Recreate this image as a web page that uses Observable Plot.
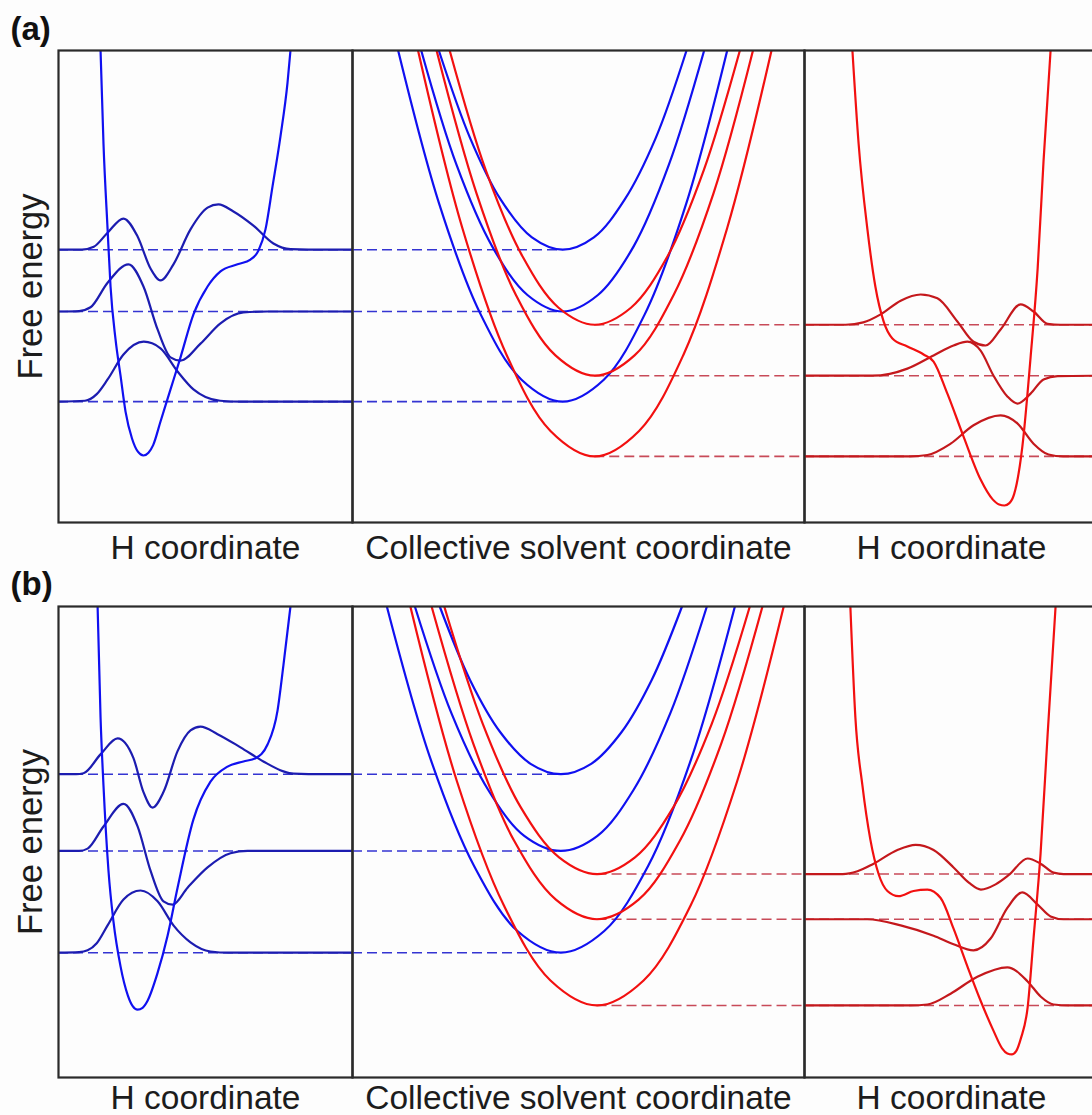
<!DOCTYPE html>
<html>
<head>
<meta charset="utf-8">
<script src="https://cdn.jsdelivr.net/npm/d3@7"></script>
<script src="https://cdn.jsdelivr.net/npm/@observablehq/plot@0.6"></script>
<style>
  html, body { margin: 0; padding: 0; background: #fdfdfd; }
  #fig { width: 1092px; height: 1115px; overflow: hidden; position: relative; background: #fdfdfd; }
  .row { display: flex; flex-direction: row; align-items: flex-start; }
  .row svg { flex: none; display: block; }
</style>
</head>
<body>
<div id="fig">
  <div class="row" id="rowA"></div>
  <div class="row" id="rowB"></div>
</div>
<script>
// ---------- Data (x: coordinate in arbitrary units 0-10 per panel; y: free energy, 0-100 of frame) ----------

// ===== Row (a) =====
const blueLevelsA = [25.6, 44.7, 57.8];
const redLevelsA  = [14.0, 31.1, 41.9];
const blueMinXA = 4.65;   // solvent coordinate of blue (reactant) minima
const redMinXA  = 5.36;   // solvent coordinate of red (product) minima

const bluePotentialA = [[1.43,100],[1.53,80.3],[1.67,62.1],[1.77,50.0],[1.94,38.8],[2.11,31.1],[2.28,23.5],[2.50,17.8],[2.70,15.0],[2.89,14.2],[3.06,14.8],[3.22,16.4],[3.47,21.4],[3.81,28.2],[4.15,35.0],[4.59,44.1],[5.07,50.0],[5.51,53.2],[6.09,54.7],[6.53,55.7],[6.80,57.6],[7.04,62.1],[7.28,71.2],[7.55,81.8],[7.79,93.2],[7.89,100]];
const blueWaveA0 = [[0,25.6],[0.9,25.8],[1.3,27.2],[1.67,30.3],[2.21,35.6],[2.9,38.3],[3.47,36.9],[4.05,32.0],[4.59,28.2],[5.0,26.6],[5.5,25.8],[6.2,25.6],[10,25.6]];
const blueWaveA1 = [[0,44.7],[0.7,44.8],[1.09,45.6],[1.67,50.8],[2.38,54.7],[2.89,50.0],[3.37,40.9],[3.81,35.0],[4.15,34.3],[4.83,37.9],[5.51,42.2],[6.29,44.5],[7.1,44.7],[10,44.7]];
const blueWaveA2 = [[0,57.8],[0.8,57.8],[1.2,58.4],[1.67,61.4],[2.21,64.4],[2.69,60.6],[3.13,53.8],[3.47,51.3],[3.91,54.7],[4.49,62.1],[5.07,66.7],[5.44,67.4],[5.95,65.9],[6.63,62.9],[7.31,59.1],[7.89,57.9],[8.5,57.8],[10,57.8]];

const blueParabolaA0 = [[1.01,100],[1.92,67.45],[2.83,44.2],[3.74,30.25],[4.65,25.6],[5.56,30.25],[6.47,44.2],[7.38,67.45],[8.29,100]];
const blueParabolaA1 = [[1.52,100],[2.30,75.8],[3.09,58.5],[3.87,48.2],[4.65,44.7],[5.43,48.2],[6.22,58.5],[7.00,75.8],[7.78,100]];
const blueParabolaA2 = [[1.91,100],[2.60,81.5],[3.28,68.4],[3.97,60.4],[4.65,57.8],[5.34,60.4],[6.02,68.4],[6.71,81.5],[7.39,100]];
const redParabolaA0  = [[1.45,100],[2.43,62.4],[3.41,35.5],[4.38,19.4],[5.36,14.0],[6.34,19.4],[7.32,35.5],[8.29,62.4],[9.27,100]];
const redParabolaA1  = [[1.86,100],[2.74,69.85],[3.61,48.3],[4.49,35.4],[5.36,31.1],[6.24,35.4],[7.11,48.3],[7.99,69.85],[8.86,100]];
const redParabolaA2  = [[2.15,100],[2.95,74.6],[3.76,56.4],[4.56,45.5],[5.36,41.9],[6.16,45.5],[6.97,56.4],[7.77,74.6],[8.57,100]];

const redPotentialA = [[1.63,100],[1.84,80.3],[2.14,62.1],[2.41,50.0],[2.69,42.6],[2.99,39.0],[3.50,37.3],[4.05,35.6],[4.39,34.1],[4.86,27.3],[5.41,18.2],[5.99,9.1],[6.40,4.9],[6.62,3.8],[6.80,3.6],[6.97,4.1],[7.13,6.0],[7.41,16.1],[7.69,35.0],[7.93,53.8],[8.13,76.5],[8.37,100]];
const redWaveA0 = [[0,14.0],[3.6,14.0],[4.18,14.3],[4.97,16.7],[5.75,20.6],[6.67,22.7],[7.24,21.0],[7.79,16.7],[8.30,14.4],[8.8,14.0],[10,14.0]];
const redWaveA1 = [[0,31.1],[2.3,31.1],[2.9,31.5],[3.50,32.6],[4.39,35.4],[5.07,37.5],[5.54,38.3],[5.99,36.4],[6.43,31.1],[6.90,26.7],[7.24,25.2],[7.69,27.3],[8.13,30.3],[8.61,31.0],[10,31.1]];
const redWaveA2 = [[0,41.9],[1.4,41.9],[2.0,42.4],[2.59,44.1],[3.27,47.0],[3.95,48.3],[4.52,47.5],[5.20,42.6],[5.75,38.3],[6.16,37.5],[6.67,40.9],[7.35,46.2],[7.79,44.7],[8.27,42.1],[8.71,41.9],[10,41.9]];

// ===== Row (b) =====
const blueLevelsB = [26.5, 48.1, 64.4];
const redLevelsB  = [15.3, 33.6, 43.2];
const blueMinXB = 4.61;
const redMinXB  = 5.41;

const bluePotentialB = [[1.33,100],[1.43,76.5],[1.53,62.0],[1.70,43.9],[1.87,33.1],[2.11,23.6],[2.36,17.4],[2.53,15.1],[2.69,14.4],[2.86,14.8],[3.03,16.3],[3.37,22.2],[3.71,30.1],[4.05,40.3],[4.59,54.8],[5.17,62.8],[5.75,66.0],[6.29,67.1],[6.70,67.8],[7.11,70.7],[7.45,77.9],[7.65,87.5],[7.89,100]];
const blueWaveB0 = [[0,26.5],[0.7,26.6],[0.99,27.0],[1.3,28.5],[1.67,32.3],[2.21,37.8],[2.79,39.7],[3.37,37.4],[3.91,32.3],[4.49,28.7],[5.17,26.75],[5.8,26.5],[10,26.5]];
const blueWaveB1 = [[0,48.1],[0.7,48.1],[0.99,48.6],[1.53,53.3],[2.21,58.1],[2.69,53.3],[3.13,43.9],[3.57,37.4],[3.88,36.7],[4.39,40.3],[5.07,44.6],[5.85,47.6],[6.43,48.1],[10,48.1]];
const blueWaveB2 = [[0,64.4],[0.6,64.4],[0.85,64.6],[1.43,68.6],[2.01,72.0],[2.55,67.8],[2.89,60.6],[3.20,57.3],[3.57,60.6],[4.05,69.3],[4.49,73.7],[4.83,74.5],[5.41,72.9],[6.19,70.1],[6.97,67.1],[7.65,65.0],[7.99,64.5],[8.5,64.4],[10,64.4]];

const blueParabolaB0 = [[0.76,100],[1.72,67.8],[2.69,44.9],[3.65,31.1],[4.61,26.5],[5.57,31.1],[6.54,44.9],[7.50,67.8],[8.46,100]];
const blueParabolaB1 = [[1.38,100],[2.19,77.3],[3.00,61.1],[3.80,51.3],[4.61,48.1],[5.42,51.3],[6.22,61.1],[7.03,77.3],[7.84,100]];
const blueParabolaB2 = [[1.93,100],[2.60,84.4],[3.27,73.3],[3.94,66.6],[4.61,64.4],[5.28,66.6],[5.95,73.3],[6.62,84.4],[7.29,100]];
const redParabolaB0  = [[1.28,100],[2.31,62.9],[3.35,36.5],[4.38,20.6],[5.41,15.3],[6.44,20.6],[7.48,36.5],[8.51,62.9],[9.54,100]];
const redParabolaB1  = [[1.75,100],[2.67,70.95],[3.58,50.2],[4.50,37.75],[5.41,33.6],[6.33,37.75],[7.24,50.2],[8.16,70.95],[9.07,100]];
const redParabolaB2  = [[2.03,100],[2.88,75.15],[3.72,57.4],[4.57,46.75],[5.41,43.2],[6.25,46.75],[7.10,57.4],[7.95,75.15],[8.79,100]];

const redPotentialB = [[1.56,100],[1.73,76.5],[1.97,62.0],[2.24,50.5],[2.52,43.2],[2.82,39.6],[3.20,38.5],[3.71,39.6],[4.18,39.9],[4.63,38.1],[5.07,31.6],[5.54,23.6],[5.99,16.3],[6.43,9.9],[6.72,6.2],[6.90,5.1],[7.05,4.9],[7.20,5.6],[7.36,8.3],[7.59,14.9],[7.79,29.5],[8.03,47.6],[8.27,72.9],[8.54,100]];
const redWaveB0 = [[0,15.3],[3.6,15.3],[4.18,15.5],[4.97,17.8],[5.88,21.4],[6.90,23.4],[7.59,20.4],[8.03,17.2],[8.47,15.5],[9.0,15.3],[10,15.3]];
const redWaveB1 = [[0,33.6],[2.14,33.6],[3.27,32.3],[4.39,30.1],[5.07,28.3],[5.75,27.0],[6.33,29.5],[6.90,36.0],[7.41,39.3],[7.93,36.7],[8.37,34.2],[8.81,33.6],[10,33.6]];
const redWaveB2 = [[0,43.2],[1.3,43.2],[1.8,43.8],[2.35,45.4],[3.16,48.3],[3.78,49.4],[4.39,48.3],[5.07,44.6],[5.6,41.3],[6.0,39.9],[6.5,41.0],[6.95,43.0],[7.59,46.5],[8.03,45.4],[8.47,43.5],[8.81,43.2],[10,43.2]];

// Text
const rowLabels = ["(a)", "(b)"];
const yLabel = "Free energy";
const panelLabels = ["H coordinate", "Collective solvent coordinate", "H coordinate"];

// ---------- Styling ----------
const BLUE = "#1010f0", BLUE_WAVE = "#1c1cb0", BLUE_DASH = "#3434d2";
const RED = "#f21010", RED_WAVE = "#c4181c", RED_DASH = "#c84a58";
const FRAME = "#2a2a2a", TEXT = "#1c1c1c";
const FONT = "'Liberation Sans', Arial, Helvetica, sans-serif";

function curveMark(data, stroke, curve = "monotone-x") {
  return Plot.line(data, {x: d => d[0], y: d => d[1], curve, stroke, strokeWidth: 2.2, clip: true});
}
function dashMark(levels, x1, x2, stroke) {
  return Plot.ruleY(levels, {y: d => d, x1, x2, stroke, strokeWidth: 1.6, strokeDasharray: "10,5"});
}
function panel(opts, marks) {
  return Plot.plot({
    width: opts.width, height: opts.height,
    marginLeft: opts.marginLeft || 0, marginRight: 0,
    marginTop: opts.marginTop, marginBottom: opts.marginBottom,
    x: {domain: [0, 10], axis: null},
    y: {domain: [0, 100], axis: null},
    style: {background: "transparent", overflow: "visible", fontFamily: FONT},
    marks: [...marks, Plot.frame({stroke: FRAME, strokeWidth: 2.2})]
  });
}
function bottomLabel(text, dy) {
  return Plot.text([text], {frameAnchor: "bottom", dy, textAnchor: "middle", lineAnchor: "middle", fontSize: 33.5, fill: TEXT});
}

function buildRow(el, cfg) {
  const common = {height: cfg.height, marginTop: cfg.marginTop, marginBottom: cfg.marginBottom};
  const left = panel({...common, width: 352, marginLeft: 58}, [
    dashMark(cfg.blueLevels, 0, 10, BLUE_DASH),
    curveMark(cfg.blueWaves[0], BLUE_WAVE),
    curveMark(cfg.blueWaves[1], BLUE_WAVE),
    curveMark(cfg.blueWaves[2], BLUE_WAVE),
    curveMark(cfg.bluePotential, BLUE),
    Plot.text([cfg.rowLabel], {frameAnchor: "top-left", dx: -48, dy: cfg.labelDy, textAnchor: "start", lineAnchor: "middle", fontSize: 33, fontWeight: "bold", fill: "#111"}),
    Plot.text([yLabel], {frameAnchor: "left", dx: -28, rotate: -90, textAnchor: "middle", lineAnchor: "middle", fontSize: 34.5, fill: TEXT}),
    bottomLabel(panelLabels[0], cfg.bottomDy)
  ]);
  const mid = panel({...common, width: 452}, [
    dashMark(cfg.blueLevels, 0, cfg.blueMinX, BLUE_DASH),
    dashMark(cfg.redLevels, cfg.redMinX, 10, RED_DASH),
    ...cfg.blueParabolas.map(p => curveMark(p, BLUE, "catmull-rom")),
    ...cfg.redParabolas.map(p => curveMark(p, RED, "catmull-rom")),
    bottomLabel(panelLabels[1], cfg.bottomDy)
  ]);
  const right = panel({...common, width: 294}, [
    dashMark(cfg.redLevels, 0, 10, RED_DASH),
    curveMark(cfg.redWaves[0], RED_WAVE),
    curveMark(cfg.redWaves[1], RED_WAVE),
    curveMark(cfg.redWaves[2], RED_WAVE),
    curveMark(cfg.redPotential, RED),
    bottomLabel(panelLabels[2], cfg.bottomDy)
  ]);
  el.append(left, mid, right);
}

buildRow(document.getElementById("rowA"), {
  height: 560, marginTop: 50, marginBottom: 38, labelDy: -21, bottomDy: 26, rowLabel: rowLabels[0],
  blueLevels: blueLevelsA, redLevels: redLevelsA, blueMinX: blueMinXA, redMinX: redMinXA,
  bluePotential: bluePotentialA, blueWaves: [blueWaveA0, blueWaveA1, blueWaveA2],
  blueParabolas: [blueParabolaA0, blueParabolaA1, blueParabolaA2],
  redParabolas: [redParabolaA0, redParabolaA1, redParabolaA2],
  redPotential: redPotentialA, redWaves: [redWaveA0, redWaveA1, redWaveA2]
});
buildRow(document.getElementById("rowB"), {
  height: 555, marginTop: 46, marginBottom: 38, labelDy: -22, bottomDy: 21, rowLabel: rowLabels[1],
  blueLevels: blueLevelsB, redLevels: redLevelsB, blueMinX: blueMinXB, redMinX: redMinXB,
  bluePotential: bluePotentialB, blueWaves: [blueWaveB0, blueWaveB1, blueWaveB2],
  blueParabolas: [blueParabolaB0, blueParabolaB1, blueParabolaB2],
  redParabolas: [redParabolaB0, redParabolaB1, redParabolaB2],
  redPotential: redPotentialB, redWaves: [redWaveB0, redWaveB1, redWaveB2]
});
</script>
</body>
</html>
